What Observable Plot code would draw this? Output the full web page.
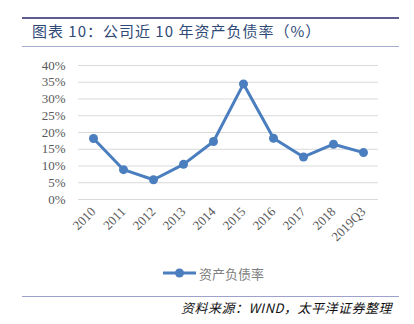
<!DOCTYPE html>
<html><head><meta charset="utf-8">
<script src="https://cdn.jsdelivr.net/npm/d3@7"></script>
<script src="https://cdn.jsdelivr.net/npm/@observablehq/plot@0.6"></script>
<style>
html,body{margin:0;padding:0;background:#fff;}
#wrap{position:relative;width:414px;height:324px;overflow:hidden;font-family:"Noto Sans CJK SC",sans-serif;}
.abs{position:absolute;}
#topline{left:22px;top:17px;width:377px;height:2px;background:#5b5e8f;}
#title{left:32px;top:22px;font-size:15px;color:#2f4a77;letter-spacing:1px;white-space:nowrap;line-height:18px;}
#hline2{left:22px;top:46px;width:377px;height:1px;background:#a8abcb;}
#chart{left:0;top:50px;}
#legend{left:163px;top:263px;height:20px;display:flex;align-items:center;font-size:13px;color:#7f7f7f;white-space:nowrap;}
#footline{left:22px;top:296px;width:377px;height:1px;background:#9ea1cc;}
#source{right:22px;top:299px;font-size:13px;font-style:italic;color:#111;white-space:nowrap;line-height:17px;letter-spacing:0.5px;}
</style></head>
<body>
<div id="wrap">
  <div id="topline" class="abs"></div>
  <div id="title" class="abs">图表 10：公司近 10 年资产负债率（%）</div>
  <div id="hline2" class="abs"></div>
  <div id="chart" class="abs"></div>
  <div id="legend" class="abs"></div>
  <div id="footline" class="abs"></div>
  <div id="source" class="abs">资料来源：WIND，太平洋证券整理</div>
</div>
<script>
const years = ["2010","2011","2012","2013","2014","2015","2016","2017","2018","2019Q3"];
const debtRatio = [18.2, 8.9, 5.9, 10.5, 17.3, 34.5, 18.3, 12.7, 16.5, 14.0];
const yTicks = [0,5,10,15,20,25,30,35,40];
const seriesName = "资产负债率";
const lineColor = "#4a7ebf";

const data = years.map((y,i)=>({year:y, value:debtRatio[i]}));

const chart = Plot.plot({
  width: 414,
  height: 210,
  marginTop: 15,
  marginBottom: 61,
  marginLeft: 78,
  marginRight: 36,
  style: {fontFamily: '"Liberation Serif", serif', fontSize: "13px", color: "#595959", background: "transparent"},
  x: {type: "point", domain: years, padding: 0.5},
  y: {domain: [0, 40]},
  marks: [
    Plot.ruleY(yTicks, {stroke: "#d9d9d9", strokeWidth: 1, strokeOpacity: 1}),
    Plot.axisY(yTicks, {tickSize: 0, tickPadding: 13, tickFormat: d => d + "%", label: null, fill: "#595959"}),
    Plot.axisX({tickSize: 0, tickRotate: -45, tickPadding: 10, label: null, fill: "#595959"}),
    Plot.line(data, {x: "year", y: "value", stroke: lineColor, strokeWidth: 3, strokeLinejoin: "round"}),
    Plot.dot(data, {x: "year", y: "value", r: 4.5, fill: lineColor, stroke: "none"})
  ]
});
document.getElementById("chart").appendChild(chart);

const lg = document.getElementById("legend");
lg.innerHTML = `<svg width="34" height="12" style="margin-right:2px"><line x1="0" x2="33" y1="6" y2="6" stroke="${lineColor}" stroke-width="3"/><circle cx="16.5" cy="6" r="4.5" fill="${lineColor}"/></svg><span>${seriesName}</span>`;
</script>
</body></html>
